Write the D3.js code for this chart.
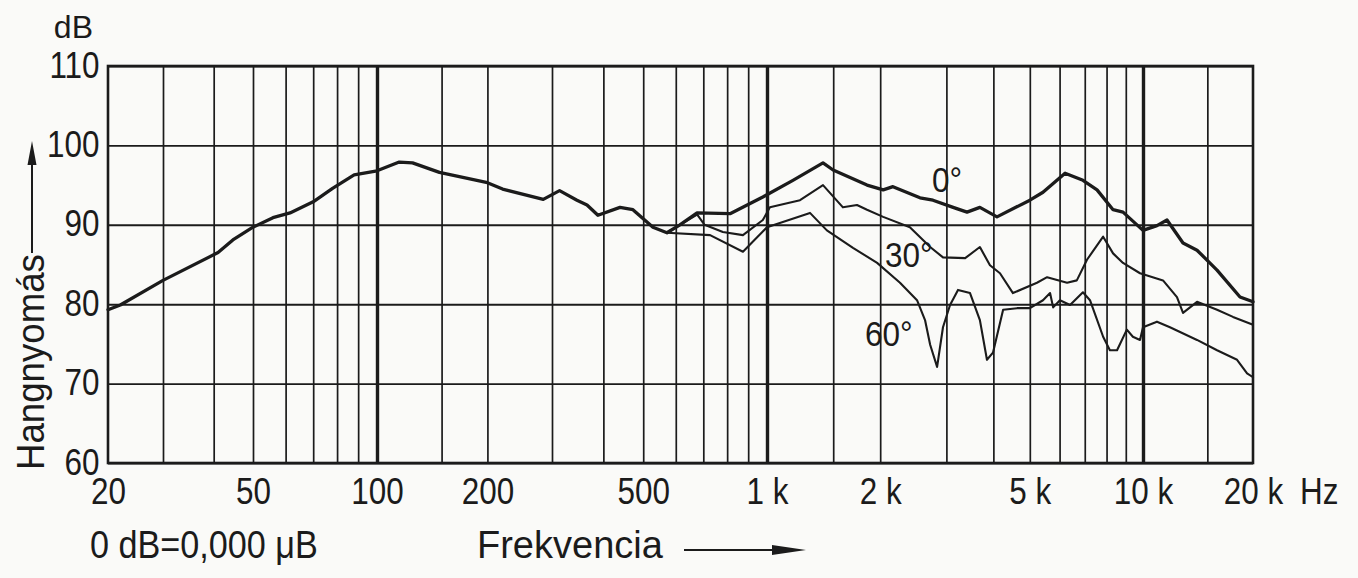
<!DOCTYPE html>
<html><head><meta charset="utf-8">
<script src="https://cdn.jsdelivr.net/npm/d3@7"></script>
<style>html,body{margin:0;padding:0;background:#fafaf8;} svg{display:block}</style>
</head><body><svg id="c" width="1358" height="578"></svg>
<script>
// ---- data ----
const freq0  = [20,21.9,30,41,44.6,50,55.9,61.5,70,78,88,100,115,125,148,200,220,284,313,345,365,388,439,472,528,571,614,676,813,977,1172,1409,1499,1845,2037,2163,2552,2763,3126,3404,3683,4089,5003,5420,6205,6923,7547,8325,8849,10000,10920,11632,12868,14055,15945,18427,20000];
const level0 = [79.3,79.9,83.0,86.5,88.1,89.7,90.9,91.5,92.9,94.6,96.3,96.8,97.9,97.8,96.6,95.3,94.5,93.2,94.3,93.1,92.5,91.2,92.2,91.9,89.7,89.0,90.0,91.5,91.4,93.5,95.6,97.8,96.9,95.0,94.4,94.8,93.4,93.1,92.2,91.6,92.2,91.0,93.1,94.1,96.5,95.6,94.4,91.9,91.6,89.3,89.9,90.6,87.7,86.8,84.3,80.9,80.3];
const freq30  = [571,614,676,705,781,874,977,1018,1224,1409,1592,1735,1845,2037,2399,2716,2938,3365,3683,3917,4165,4509,5224,5559,6281,6668,7096,7834,8325,8849,9818,11343,12387,12868,14055,15945,17632,20000];
const level30 = [89.0,90.0,91.3,90.0,89.1,88.7,90.6,92.2,93.1,95.0,92.2,92.5,91.9,91.0,89.7,87.2,85.9,85.8,87.2,84.9,83.9,81.4,82.7,83.4,82.7,83.0,85.6,88.5,86.4,85.2,83.9,83.0,80.9,78.9,80.3,79.3,78.4,77.4];
const freq60  = [571,727,874,1000,1301,1443,1693,1963,2258,2506,2632,2716,2834,2938,3068,3221,3467,3683,3846,3990,4246,4624,5003,5420,5660,5768,6012,6397,6923,7228,7834,8166,8531,9057,9398,9818,10000,10920,11851,14055,15945,18088,19267,20000];
const level60 = [89.0,88.7,86.6,89.7,91.5,89.3,87.1,85.2,82.7,80.5,78.0,74.9,72.1,77.1,79.9,81.8,81.4,78.0,73.0,73.9,79.3,79.5,79.5,80.5,81.4,79.6,80.5,79.9,81.5,80.5,75.9,74.2,74.2,76.8,75.9,75.5,77.1,77.8,77.1,75.5,74.2,73.0,71.3,70.8];
const seriesNames = ["0°","30°","60°"];
const seriesLabelFreq = [2747,2060,1822];
const seriesLabelLevel = [94.1,84.7,74.7];
const yTicks = [60,70,80,90,100,110];
const gridFreqs = [30,40,50,60,70,80,90,100,150,200,300,400,500,600,700,800,900,1000,1500,2000,3000,4000,5000,6000,7000,8000,9000,10000,15000];
const decadeFreqs = [100,1000,10000];
const xTickValues = [20,50,100,200,500,1000,2000,5000,10000,20000];
const xTickLabels = ["20","50","100","200","500","1 k","2 k","5 k","10 k","20 k"];
const yUnit = "dB", xUnit = "Hz";
const yTitle = "Hangnyomás", xTitle = "Frekvencia", refNote = "0 dB=0,000 μB";

// ---- scales (piecewise log to follow the printed paper) ----
const x = d3.scaleLog().domain([20,30,50,100,300,1000,10000,20000])
  .range([108,163,253,377,552,767,1143,1253]);
const y = d3.scaleLinear().domain([60,110]).range([463,66]);
const pL = x(20), pR = x(20000), pT = y(110), pB = y(60);
const ink = "#1b1b1b";
const FONT = "'Liberation Sans', Arial, sans-serif";
const svg = d3.select("#c");

// vertical grid
const gx = svg.append("g").attr("transform", `translate(0,${pB})`)
  .call(d3.axisBottom(x).tickValues(gridFreqs).tickSize(-(pB - pT)).tickFormat(""));
gx.select(".domain").remove();
gx.selectAll("line").attr("stroke", ink)
  .attr("stroke-width", d => decadeFreqs.includes(d) ? 3.4 : 1.7);

// horizontal grid
const gy = svg.append("g").attr("transform", `translate(${pL},0)`)
  .call(d3.axisLeft(y).tickValues(yTicks).tickSize(-(pR - pL)).tickFormat(""));
gy.select(".domain").remove();
gy.selectAll("line").attr("stroke", ink).attr("stroke-width", 1.9);

// frame
svg.append("rect").attr("x", pL).attr("y", pT).attr("width", pR - pL).attr("height", pB - pT)
  .attr("fill", "none").attr("stroke", ink).attr("stroke-width", 2.6);

// x tick labels
const ax = svg.append("g").attr("transform", `translate(0,${pB})`)
  .call(d3.axisBottom(x).tickValues(xTickValues).tickSize(0).tickPadding(0)
    .tickFormat((d, i) => xTickLabels[i]));
ax.select(".domain").remove();
ax.selectAll("text").attr("y", 41).attr("dy", 0)
  .attr("font-family", FONT).attr("font-size", 37).attr("fill", ink)
  .attr("transform", "scale(0.85,1)");

// y tick labels
const ay = svg.append("g").attr("transform", `translate(${pL},0)`)
  .call(d3.axisLeft(y).tickValues(yTicks).tickSize(0).tickPadding(10));
ay.select(".domain").remove();
ay.selectAll("text").attr("dy", "0.3em")
  .attr("font-family", FONT).attr("font-size", 37).attr("fill", ink)
  .attr("transform", "scale(0.85,1)");

// units
svg.append("text").attr("x", pL - 15).attr("y", pT - 28).attr("text-anchor", "end")
  .attr("font-family", FONT).attr("font-size", 32).attr("fill", ink).text(yUnit);
svg.append("text").attr("transform", `translate(${pR + 47},${pB + 41}) scale(0.85,1)`)
  .attr("font-family", FONT).attr("font-size", 37).attr("fill", ink).text(xUnit);

// y title + arrow
svg.append("text").attr("transform", `translate(44,470) rotate(-90) scale(0.94,1)`)
  .attr("font-family", FONT).attr("font-size", 39).attr("fill", ink).text(yTitle);
svg.append("line").attr("x1", 32).attr("x2", 32).attr("y1", 253).attr("y2", 160)
  .attr("stroke", ink).attr("stroke-width", 2);
svg.append("path").attr("d", "M32,141 L27.5,165 L36.5,165 Z").attr("fill", ink);

// x title + arrow, reference note
svg.append("text").attr("x", 477).attr("y", 558)
  .attr("font-family", FONT).attr("font-size", 38).attr("fill", ink).text(xTitle);
svg.append("line").attr("x1", 684).attr("x2", 780).attr("y1", 550).attr("y2", 550)
  .attr("stroke", ink).attr("stroke-width", 2);
svg.append("path").attr("d", "M806,550 L772,545 L772,555 Z").attr("fill", ink);
svg.append("text").attr("transform", "translate(90,558) scale(0.9,1)")
  .attr("font-family", FONT).attr("font-size", 38).attr("fill", ink).text(refNote);

// curves
const line = d3.line().x(d => x(d[0])).y(d => y(d[1]));
const series = [
  {f: freq0, v: level0, w: 3.3},
  {f: freq30, v: level30, w: 2.1},
  {f: freq60, v: level60, w: 2.1}
];
series.forEach(s => {
  svg.append("path").datum(s.f.map((f, i) => [f, s.v[i]]))
    .attr("d", line).attr("fill", "none").attr("stroke", ink)
    .attr("stroke-width", s.w).attr("stroke-linejoin", "round").attr("stroke-linecap", "round");
});

// series labels
seriesNames.forEach((n, i) => {
  svg.append("text")
    .attr("transform", `translate(${x(seriesLabelFreq[i])},${y(seriesLabelLevel[i])}) scale(0.9,1)`)
    .attr("font-family", FONT).attr("font-size", 35).attr("fill", ink).text(n);
});
</script></body></html>
